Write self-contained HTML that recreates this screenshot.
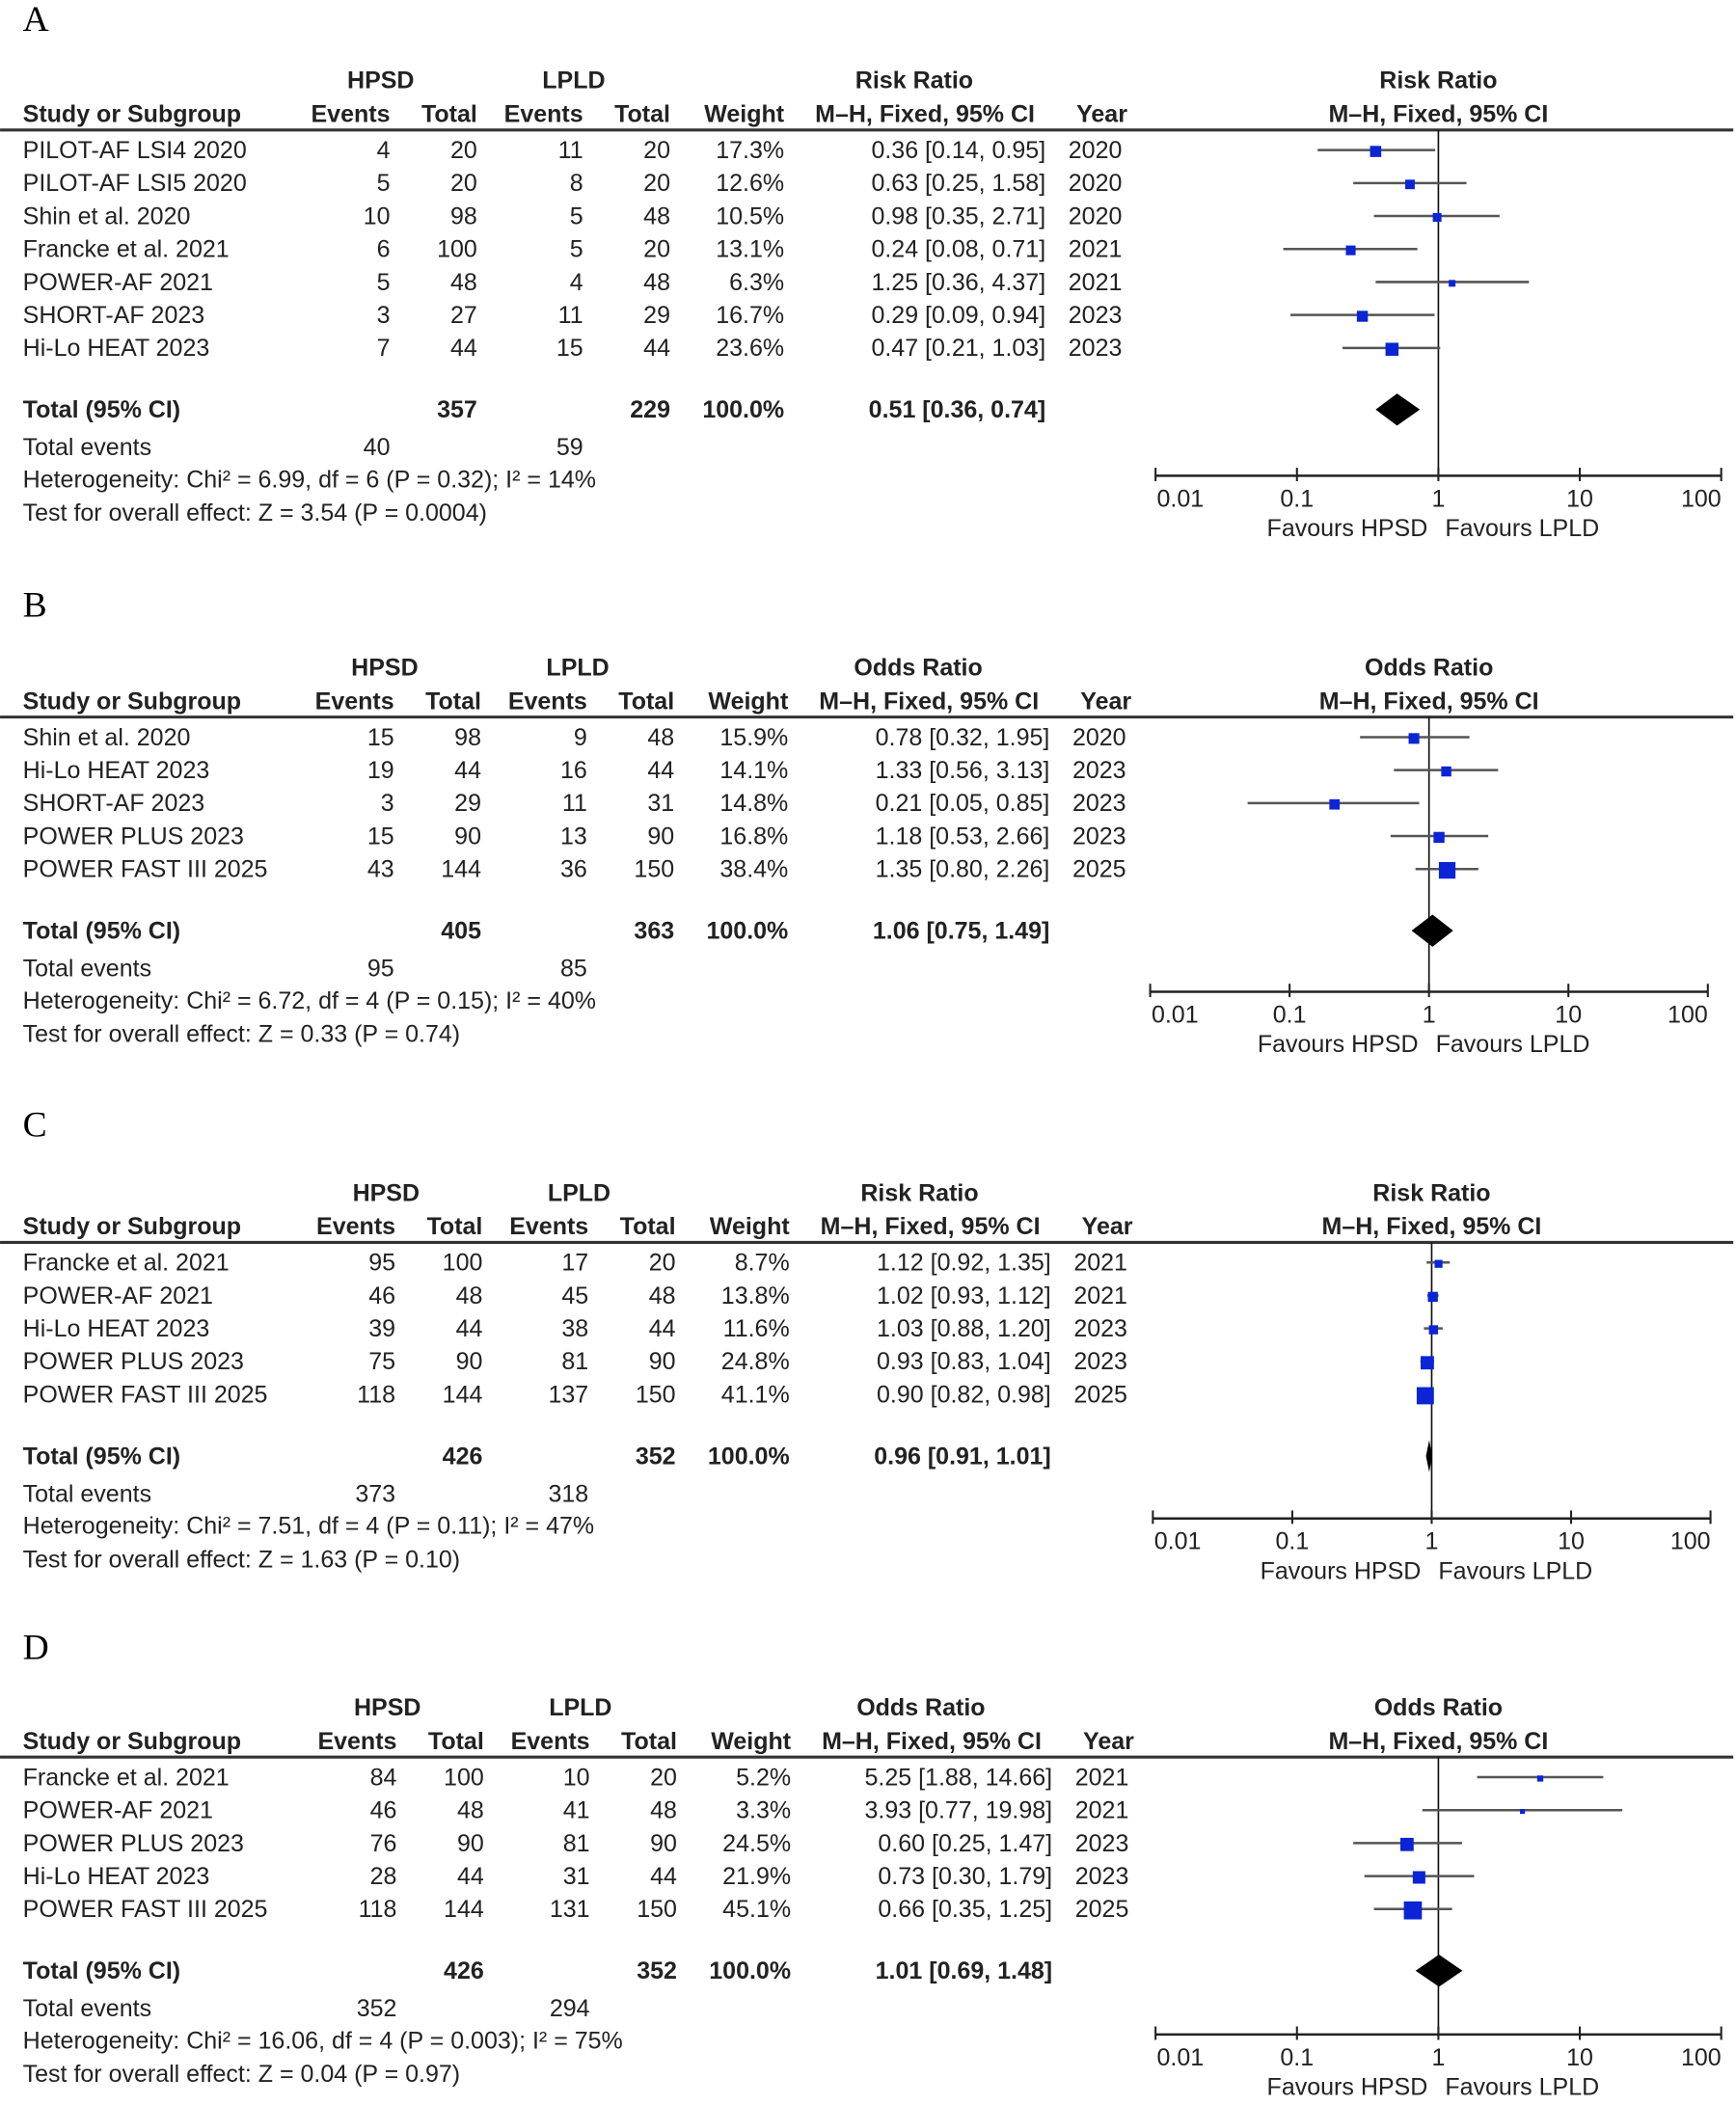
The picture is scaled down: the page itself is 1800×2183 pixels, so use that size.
<!DOCTYPE html>
<html><head><meta charset="utf-8"><style>
html,body{margin:0;padding:0;background:#fff;}
svg{display:block;}
text{font-family:"Liberation Sans","DejaVu Sans",sans-serif;font-size:18px;fill:#222;}
.b{font-weight:bold;}
.lbl{font-family:"Liberation Serif",serif;font-size:27px;fill:#000;}
</style></head><body>
<svg id="fig" width="1800" height="2183" viewBox="0 0 1295 1570.6" xmlns="http://www.w3.org/2000/svg"></svg>
<script>
// Panel A data
const studiesA=["PILOT-AF LSI4 2020","PILOT-AF LSI5 2020","Shin et al. 2020","Francke et al. 2021","POWER-AF 2021","SHORT-AF 2023","Hi-Lo HEAT 2023"];
const e1A=[4,5,10,6,5,3,7], t1A=[20,20,98,100,48,27,44], e2A=[11,8,5,5,4,11,15], t2A=[20,20,48,20,48,29,44];
const wA=[17.3,12.6,10.5,13.1,6.3,16.7,23.6];
const estA=[0.36,0.63,0.98,0.24,1.25,0.29,0.47], loA=[0.14,0.25,0.35,0.08,0.36,0.09,0.21], hiA=[0.95,1.58,2.71,0.71,4.37,0.94,1.03];
const yearA=[2020,2020,2020,2021,2021,2023,2023];
const totA=[357,229,40,59], overallA=[0.51,0.36,0.74];
const hetA="Heterogeneity: Chi² = 6.99, df = 6 (P = 0.32); I² = 14%", zA="Test for overall effect: Z = 3.54 (P = 0.0004)";
// Panel B data
const studiesB=["Shin et al. 2020","Hi-Lo HEAT 2023","SHORT-AF 2023","POWER PLUS 2023","POWER FAST III 2025"];
const e1B=[15,19,3,15,43], t1B=[98,44,29,90,144], e2B=[9,16,11,13,36], t2B=[48,44,31,90,150];
const wB=[15.9,14.1,14.8,16.8,38.4];
const estB=[0.78,1.33,0.21,1.18,1.35], loB=[0.32,0.56,0.05,0.53,0.80], hiB=[1.95,3.13,0.85,2.66,2.26];
const yearB=[2020,2023,2023,2023,2025];
const totB=[405,363,95,85], overallB=[1.06,0.75,1.49];
const hetB="Heterogeneity: Chi² = 6.72, df = 4 (P = 0.15); I² = 40%", zB="Test for overall effect: Z = 0.33 (P = 0.74)";
// Panel C data
const studiesC=["Francke et al. 2021","POWER-AF 2021","Hi-Lo HEAT 2023","POWER PLUS 2023","POWER FAST III 2025"];
const e1C=[95,46,39,75,118], t1C=[100,48,44,90,144], e2C=[17,45,38,81,137], t2C=[20,48,44,90,150];
const wC=[8.7,13.8,11.6,24.8,41.1];
const estC=[1.12,1.02,1.03,0.93,0.90], loC=[0.92,0.93,0.88,0.83,0.82], hiC=[1.35,1.12,1.20,1.04,0.98];
const yearC=[2021,2021,2023,2023,2025];
const totC=[426,352,373,318], overallC=[0.96,0.91,1.01];
const hetC="Heterogeneity: Chi² = 7.51, df = 4 (P = 0.11); I² = 47%", zC="Test for overall effect: Z = 1.63 (P = 0.10)";
// Panel D data
const studiesD=["Francke et al. 2021","POWER-AF 2021","POWER PLUS 2023","Hi-Lo HEAT 2023","POWER FAST III 2025"];
const e1D=[84,46,76,28,118], t1D=[100,48,90,44,144], e2D=[10,41,81,31,131], t2D=[20,48,90,44,150];
const wD=[5.2,3.3,24.5,21.9,45.1];
const estD=[5.25,3.93,0.60,0.73,0.66], loD=[1.88,0.77,0.25,0.30,0.35], hiD=[14.66,19.98,1.47,1.79,1.25];
const yearD=[2021,2021,2023,2023,2025];
const totD=[426,352,352,294], overallD=[1.01,0.69,1.48];
const hetD="Heterogeneity: Chi² = 16.06, df = 4 (P = 0.003); I² = 75%", zD="Test for overall effect: Z = 0.04 (P = 0.97)";
const ticks=[0.01,0.1,1,10,100], tickLabels=["0.01","0.1","1","10","100"];

const svg=document.getElementById('fig'), NS='http://www.w3.org/2000/svg';
function mk(tag,attrs,parent){const el=document.createElementNS(NS,tag);for(const k in attrs)el.setAttribute(k,attrs[k]);(parent||svg).appendChild(el);return el;}
function txt(s,x,y,anchor,cls,parent){const t=mk('text',{x:x,y:y,'text-anchor':anchor||'start'},parent);if(cls)t.setAttribute('class',cls);t.textContent=s;return t;}

function panel(o){
  const g=mk('g',{});
  
  
  const d=o.dx;
  const L=txt(o.letter,17,o.labelY,'start','lbl',g);
  
  
  const h1=o.hy, h2=o.hy+25;
  txt('HPSD',284+d,h1,'middle','b',g);txt('LPLD',428+d,h1,'middle','b',g);
  txt(o.measure,682+d,h1,'middle','b',g);txt(o.measure,(o.x0+o.x1)/2,h1,'middle','b',g);
  txt('Study or Subgroup',17,h2,'start','b',g);
  txt('Events',291+d,h2,'end','b',g);txt('Total',356+d,h2,'end','b',g);
  txt('Events',435+d,h2,'end','b',g);txt('Total',500+d,h2,'end','b',g);
  txt('Weight',585+d,h2,'end','b',g);txt('M–H, Fixed, 95% CI',690+d,h2,'middle','b',g);
  txt('Year',822+d,h2,'middle','b',g);txt('M–H, Fixed, 95% CI',(o.x0+o.x1)/2,h2,'middle','b',g);
  const ruleY=o.hy+31;
  const rule=mk('line',{x1:0,x2:1293,y1:ruleY,y2:ruleY,stroke:'#333','stroke-width':2.2},g);
  
  
  const lx=v=>o.x0+(Math.log10(v)+2)/4*(o.x1-o.x0);
  const axisY=o.axisY;
  const vl=mk('line',{x1:lx(1),x2:lx(1),y1:ruleY,y2:axisY,stroke:'#111','stroke-width':1.2},g);
  
  
  const rowY=i=>ruleY+15+i*24.6;
  o.studies.forEach((s,i)=>{
    const y=rowY(i)+6;
    const r=mk('g',{},g);
    
    
    txt(s,17,y,'start',null,r);
    txt(String(o.e1[i]),291+d,y,'end',null,r);txt(String(o.t1[i]),356+d,y,'end',null,r);
    txt(String(o.e2[i]),435+d,y,'end',null,r);txt(String(o.t2[i]),500+d,y,'end',null,r);
    txt(o.w[i].toFixed(1)+'%',585+d,y,'end',null,r);
    txt(o.est[i].toFixed(2)+' ['+o.lo[i].toFixed(2)+', '+o.hi[i].toFixed(2)+']',780+d,y,'end',null,r);
    txt(String(o.year[i]),797+d,y,'start',null,r);
    const cy=rowY(i);
    const ci=mk('line',{x1:lx(Math.max(o.lo[i],0.01)),x2:lx(Math.min(o.hi[i],100)),y1:cy,y2:cy,stroke:'#555','stroke-width':1.8},r);
    
    
    const sz=2*Math.sqrt(o.w[i]);
    const sq=mk('rect',{x:lx(o.est[i])-sz/2,y:cy-sz/2+1,width:sz,height:sz,fill:'#0a24d6'},r);
    
    
  });
  const ty=ruleY+15+(o.studies.length-1)*24.6+46+6;
  txt('Total (95% CI)',17,ty,'start','b',g);
  txt(String(o.tot[0]),356+d,ty,'end','b',g);txt(String(o.tot[1]),500+d,ty,'end','b',g);
  txt('100.0%',585+d,ty,'end','b',g);
  txt(o.overall[0].toFixed(2)+' ['+o.overall[1].toFixed(2)+', '+o.overall[2].toFixed(2)+']',780+d,ty,'end','b',g);
  const dy=ty-6;
  const dm=mk('polygon',{points:`${lx(o.overall[1])},${dy} ${lx(o.overall[0])},${dy-12} ${lx(o.overall[2])},${dy} ${lx(o.overall[0])},${dy+12}`,fill:'#000'},g);
  
  
  txt('Total events',17,ty+28,'start',null,g);
  txt(String(o.tot[2]),291+d,ty+28,'end',null,g);txt(String(o.tot[3]),435+d,ty+28,'end',null,g);
  txt(o.het,17,ty+52,'start',null,g);
  txt(o.z,17,ty+77,'start',null,g);
  const ax=mk('line',{x1:o.x0,x2:o.x1,y1:axisY,y2:axisY,stroke:'#222','stroke-width':1.8},g);
  
  
  ticks.forEach((t,i)=>{
    mk('line',{x1:lx(t),x2:lx(t),y1:axisY-6,y2:axisY+4,stroke:'#222','stroke-width':1.5},g);
    const anc=i===0?'start':(i===ticks.length-1?'end':'middle');
    txt(tickLabels[i],lx(t)+(i===0?1:0),axisY+23,anc,null,g);
  });
  txt('Favours HPSD',lx(1)-8,axisY+45,'end',null,g);
  txt('Favours LPLD',lx(1)+5,axisY+45,'start',null,g);
}
panel({letter:'A',labelY:23,hy:66,dx:0,measure:'Risk Ratio',x0:862,x1:1284,axisY:355,studies:studiesA,e1:e1A,t1:t1A,e2:e2A,t2:t2A,w:wA,est:estA,lo:loA,hi:hiA,year:yearA,tot:totA,overall:overallA,het:hetA,z:zA});
panel({letter:'B',labelY:460,hy:504,dx:3,measure:'Odds Ratio',x0:858,x1:1274,axisY:740,studies:studiesB,e1:e1B,t1:t1B,e2:e2B,t2:t2B,w:wB,est:estB,lo:loB,hi:hiB,year:yearB,tot:totB,overall:overallB,het:hetB,z:zB});
panel({letter:'C',labelY:848,hy:896,dx:4,measure:'Risk Ratio',x0:860,x1:1276,axisY:1133,studies:studiesC,e1:e1C,t1:t1C,e2:e2C,t2:t2C,w:wC,est:estC,lo:loC,hi:hiC,year:yearC,tot:totC,overall:overallC,het:hetC,z:zC});
panel({letter:'D',labelY:1238,hy:1280,dx:5,measure:'Odds Ratio',x0:862,x1:1284,axisY:1518,studies:studiesD,e1:e1D,t1:t1D,e2:e2D,t2:t2D,w:wD,est:estD,lo:loD,hi:hiD,year:yearD,tot:totD,overall:overallD,het:hetD,z:zD});
</script>
</body></html>
